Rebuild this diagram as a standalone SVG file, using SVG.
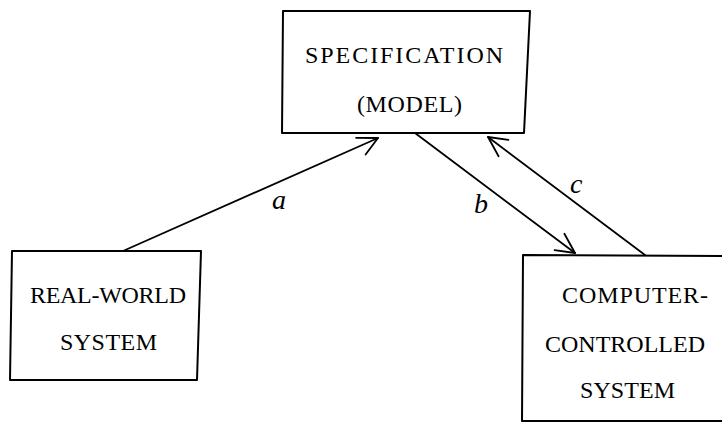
<svg xmlns="http://www.w3.org/2000/svg" width="722" height="423" viewBox="0 0 722 423">
  <style>
    .box { fill: none; stroke: #000; stroke-width: 2; stroke-linejoin: round; }
    .lbl { font-family: "Liberation Serif", "DejaVu Serif", serif; font-size: 24px; fill: #000; }
    .conn { fill: none; stroke: #000; stroke-width: 1.8; stroke-linecap: round; }
    .hand { font-family: "Liberation Serif", "DejaVu Serif", serif; font-style: italic; font-size: 28px; fill: #000; }
  </style>
  <defs>
    <marker id="openHead" markerWidth="26" markerHeight="26" refX="22" refY="12" orient="auto" markerUnits="userSpaceOnUse">
      <path d="M2,3 L22,12 L4,22" fill="none" stroke="#000" stroke-width="1.8" stroke-linecap="round" stroke-linejoin="round"/>
    </marker>
  </defs>
  <rect width="722" height="423" fill="#fff"/>

  <g id="specification">
    <path class="box" d="M283,11 L530,11 L524,133 L282,133 Z"/>
    <text class="lbl" x="305" y="63" textLength="198" lengthAdjust="spacing">SPECIFICATION</text>
    <text class="lbl" x="357" y="112" textLength="105" lengthAdjust="spacing">(MODEL)</text>
  </g>

  <g id="real-world-system">
    <path class="box" d="M12,251 L201,251 L197,380 L10,380 Z"/>
    <text class="lbl" x="30" y="303" textLength="156" lengthAdjust="spacing">REAL-WORLD</text>
    <text class="lbl" x="60" y="350" textLength="97" lengthAdjust="spacing">SYSTEM</text>
  </g>

  <g id="computer-controlled-system">
    <path class="box" d="M730,256 L523,255 L522,421 L730,421"/>
    <text class="lbl" x="562" y="303" textLength="146" lengthAdjust="spacing">COMPUTER-</text>
    <text class="lbl" x="545" y="352" textLength="160" lengthAdjust="spacing">CONTROLLED</text>
    <text class="lbl" x="580" y="398" textLength="95" lengthAdjust="spacing">SYSTEM</text>
  </g>

  <g id="connectors">
    <line class="conn" x1="123" y1="251" x2="378" y2="138" marker-end="url(#openHead)"/>
    <line class="conn" x1="415" y1="133" x2="575" y2="253" marker-end="url(#openHead)"/>
    <line class="conn" x1="645" y1="255" x2="488" y2="137" marker-end="url(#openHead)"/>
    <text class="hand" x="272" y="209">a</text>
    <text class="hand" x="474" y="213">b</text>
    <text class="hand" x="570" y="193">c</text>
  </g>
</svg>
